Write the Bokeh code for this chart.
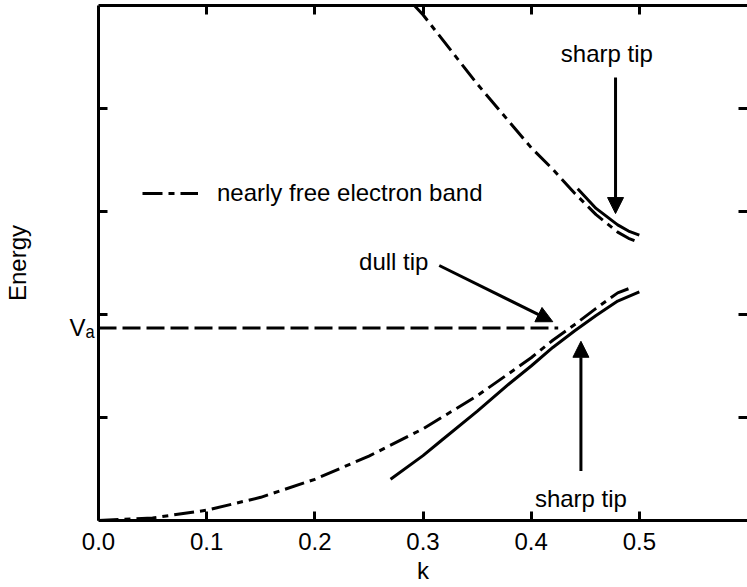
from bokeh.plotting import figure
from bokeh.models import (LinearAxis, FixedTicker, Label, Arrow, NormalHead, Range1d,
                          Legend, LegendItem, PrintfTickFormatter)
from bokeh.embed import file_html
from bokeh.resources import INLINE

# ---- data ----
k_nfe_lower = [0.0, 0.05, 0.10, 0.15, 0.20, 0.25, 0.30, 0.35, 0.40, 0.42, 0.44, 0.46, 0.48, 0.495]
E_nfe_lower = [0.0, 0.025, 0.10, 0.225, 0.40, 0.625, 0.89, 1.21, 1.58, 1.75, 1.90, 2.06, 2.21, 2.27]

k_nfe_upper = [0.292, 0.30, 0.35, 0.40, 0.42, 0.44, 0.46, 0.48, 0.49, 0.50]
E_nfe_upper = [5.00, 4.91, 4.24, 3.62, 3.41, 3.18, 2.97, 2.80, 2.74, 2.70]

k_sharp_lower = [0.27, 0.30, 0.317, 0.35, 0.38, 0.40, 0.42, 0.44, 0.46, 0.48, 0.50]
E_sharp_lower = [0.40, 0.63, 0.777, 1.06, 1.33, 1.50, 1.68, 1.84, 1.99, 2.13, 2.22]

k_sharp_upper = [0.443, 0.46, 0.48, 0.49, 0.50]
E_sharp_upper = [3.22, 3.03, 2.87, 2.81, 2.77]

k_dull = [0.0, 0.425]
E_dull = [1.87, 1.87]
V_a = 1.87

x_ticks = [0.0, 0.1, 0.2, 0.3, 0.4, 0.5]
top_ticks = [0.1, 0.2, 0.3, 0.4, 0.5]
y_ticks = [1, 2, 3, 4]

FONT = "Liberation Sans"
FS = "24px"

p = figure(width=747, height=587, output_backend="svg", toolbar_location=None,
           x_range=Range1d(0, 0.6), y_range=Range1d(0, 5),
           min_border_left=94, min_border_right=0, min_border_top=5, min_border_bottom=67,
           x_axis_location=None, y_axis_location=None)
p.outline_line_color = None
p.xgrid.visible = False
p.ygrid.visible = False
p.background_fill_color = "white"
p.border_fill_color = "white"

def style_axis(ax):
    ax.axis_line_width = 3
    ax.major_tick_line_width = 3
    ax.major_tick_out = 0
    ax.major_tick_in = 9
    ax.minor_tick_line_color = None
    ax.major_label_text_font = FONT
    ax.major_label_text_font_size = FS
    ax.major_label_text_color = "black"
    ax.axis_label_text_font = FONT
    ax.axis_label_text_font_size = FS
    ax.axis_label_text_font_style = "normal"
    ax.axis_label_text_color = "black"

def blank_labels(ax, ticks):
    ax.major_label_overrides = {t: "" for t in ticks}
    ax.major_label_standoff = 0

bottom = LinearAxis(ticker=FixedTicker(ticks=x_ticks), formatter=PrintfTickFormatter(format="%.1f"),
                    axis_label="k")
style_axis(bottom)
bottom.major_label_standoff = 12
bottom.axis_label_standoff = 4
p.add_layout(bottom, "below")

top = LinearAxis(ticker=FixedTicker(ticks=top_ticks))
style_axis(top)
blank_labels(top, top_ticks)
p.add_layout(top, "above")

left = LinearAxis(ticker=FixedTicker(ticks=y_ticks))
style_axis(left)
blank_labels(left, y_ticks)
p.add_layout(left, "left")

# V_a marker label on an outer left axis (no line, no tick)
va_axis = LinearAxis(ticker=FixedTicker(ticks=[V_a]), axis_label="Energy")
style_axis(va_axis)
va_axis.axis_line_color = None
va_axis.major_tick_line_color = None
va_axis.major_tick_in = 0
va_axis.major_label_overrides = {V_a: "Vₐ"}
va_axis.major_label_standoff = 4
va_axis.axis_label_standoff = 36
p.add_layout(va_axis, "left")

right = LinearAxis(ticker=FixedTicker(ticks=y_ticks))
style_axis(right)
right.axis_line_color = None
blank_labels(right, y_ticks)
p.add_layout(right, "right")

# curves
r_nfe = p.line(k_nfe_lower, E_nfe_lower, line_color="black", line_width=3, line_dash="20 6 6 6")
p.line(k_nfe_upper, E_nfe_upper, line_color="black", line_width=3, line_dash="20 6 6 6")
p.line(k_sharp_lower, E_sharp_lower, line_color="black", line_width=3)
p.line(k_sharp_upper, E_sharp_upper, line_color="black", line_width=3)
p.line(k_dull, E_dull, line_color="black", line_width=3, line_dash="18 6")

legend = Legend(items=[LegendItem(label="nearly free electron band", renderers=[r_nfe])],
                location=(44, 313), padding=0, margin=0, spacing=0,
                glyph_width=56, glyph_height=20, label_standoff=19,
                label_text_font=FONT, label_text_font_size=FS, label_text_color="black",
                border_line_color=None, background_fill_alpha=0)
p.add_layout(legend)

# annotations
def arrow(x0, y0, x1, y1):
    p.add_layout(Arrow(end=NormalHead(size=16, fill_color="black", line_color="black"),
                       x_start=x0, y_start=y0, x_end=x1, y_end=y1,
                       line_width=3, line_color="black"))

def label(x, y, text, align):
    p.add_layout(Label(x=x, y=y, text=text, text_font=FONT, text_font_size=FS,
                       text_color="black", text_align=align, text_baseline="middle"))

arrow(0.315, 2.476, 0.420, 1.93)
label(0.305, 2.51, "dull tip", "right")

arrow(0.478, 4.30, 0.478, 2.98)
label(0.470, 4.53, "sharp tip", "center")

arrow(0.446, 0.48, 0.446, 1.74)
label(0.446, 0.21, "sharp tip", "center")

open("out.html", "w").write(file_html(p, INLINE))
